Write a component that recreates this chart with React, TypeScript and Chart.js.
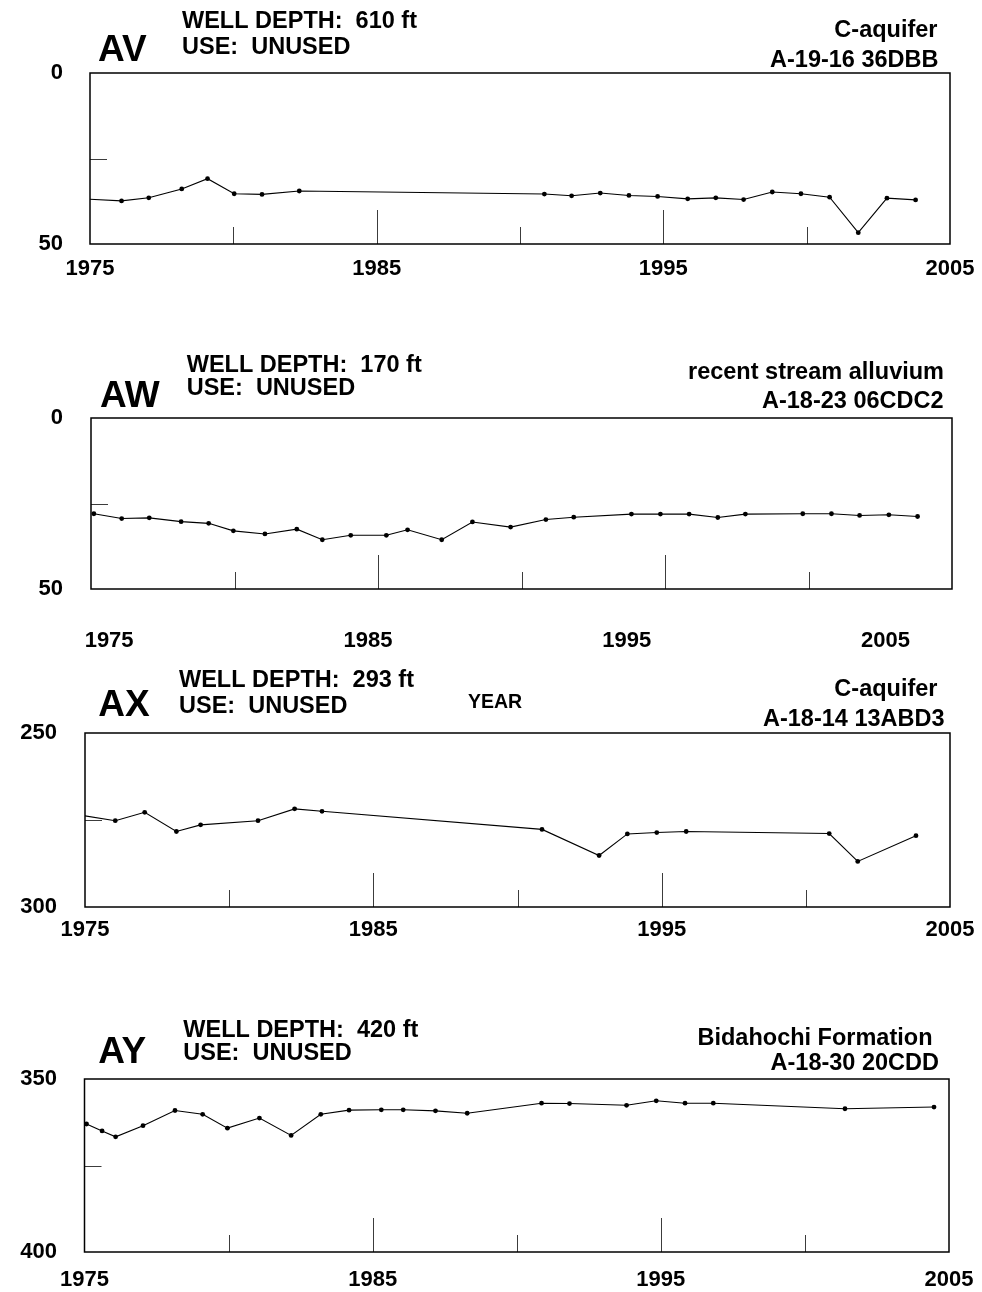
import React, { useEffect, useRef } from 'react';
import { Chart, registerables } from 'chart.js';

Chart.register(...registerables);

const FONT = '"Liberation Sans", Arial, Helvetica, sans-serif';

// ---------- DATA ----------
const xLabelYears = [1975, 1985, 1995, 2005];
const xTickYears = [1980, 1985, 1990, 1995, 2000];

const avYLabels = [0, 50];
const awYLabels = [0, 50];
const axYLabels = [250, 300];
const ayYLabels = [350, 400];

const avYears = [1974.6, 1976.1, 1977.05, 1978.2, 1979.1, 1980.03, 1981.0, 1982.3, 1990.85, 1991.8, 1992.8, 1993.8, 1994.8, 1995.85, 1996.83, 1997.8, 1998.8, 1999.8, 2000.8, 2001.8, 2002.8, 2003.8];
const avDepth = [36.75, 37.4, 36.5, 33.9, 30.9, 35.3, 35.5, 34.5, 35.4, 35.9, 35.1, 35.8, 36.1, 36.8, 36.5, 37.0, 34.8, 35.3, 36.3, 46.7, 36.6, 37.1];

const awYears = [1975.1, 1976.07, 1977.03, 1978.14, 1979.1, 1979.96, 1981.06, 1982.17, 1983.06, 1984.05, 1985.29, 1986.03, 1987.22, 1988.29, 1989.62, 1990.85, 1991.82, 1993.83, 1994.84, 1995.84, 1996.84, 1997.8, 1999.8, 2000.8, 2001.78, 2002.8, 2003.8];
const awDepth = [28.0, 29.4, 29.2, 30.3, 30.8, 33.0, 33.9, 32.5, 35.6, 34.3, 34.3, 32.7, 35.6, 30.4, 31.9, 29.7, 29.0, 28.1, 28.1, 28.1, 29.1, 28.1, 28.0, 28.0, 28.5, 28.3, 28.8];
const awLabelRange = [1974.3, 2007.57];

const axYears = [1974.6, 1976.05, 1977.07, 1978.17, 1979.01, 1981.0, 1982.27, 1983.22, 1990.85, 1992.83, 1993.81, 1994.83, 1995.85, 2000.81, 2001.8, 2003.82];
const axDepth = [273.3, 275.2, 272.8, 278.3, 276.4, 275.2, 271.8, 272.5, 277.7, 285.2, 279.0, 278.6, 278.3, 278.9, 286.9, 279.5];

const ayYears = [1975.07, 1975.61, 1976.08, 1977.03, 1978.14, 1979.1, 1979.96, 1981.07, 1982.17, 1983.2, 1984.18, 1985.3, 1986.06, 1987.18, 1988.28, 1990.86, 1991.83, 1993.81, 1994.84, 1995.84, 1996.82, 2001.39, 2004.48];
const ayDepth = [363.0, 365.0, 366.7, 363.5, 359.1, 360.2, 364.2, 361.3, 366.3, 360.2, 359.0, 358.9, 358.9, 359.2, 359.9, 357.0, 357.1, 357.6, 356.3, 357.0, 357.0, 358.6, 358.1];

// ---------- LAYOUT ----------
type TextItem = { text: string; x: number; y: number; size: number; align?: CanvasTextAlign };
type Panel = {
  id: string;
  years: number[];
  depth: number[];
  yLabels: number[];
  labelRange?: number[];
  canvasTop: number;
  canvasHeight: number;
  area: { left: number; right: number; top: number; bottom: number };
  xPad: number;
  yPad: number;
  texts: TextItem[];
};

const H = 23.5;
const BIG = 37;

const panels: Panel[] = [
  {
    id: 'AV', years: avYears, depth: avDepth, yLabels: avYLabels,
    canvasTop: 0, canvasHeight: 300,
    area: { left: 90, right: 950, top: 73, bottom: 244 }, xPad: 12, yPad: 27,
    texts: [
      { text: 'AV', x: 98, y: 61, size: BIG },
      { text: 'WELL DEPTH:  610 ft', x: 182, y: 28.3, size: H },
      { text: 'USE:  UNUSED', x: 182, y: 54, size: H },
      { text: 'C-aquifer', x: 937.5, y: 36.7, size: H, align: 'right' },
      { text: 'A-19-16 36DBB', x: 938.5, y: 67.3, size: H, align: 'right' },
    ],
  },
  {
    id: 'AW', years: awYears, depth: awDepth, yLabels: awYLabels, labelRange: awLabelRange,
    canvasTop: 330, canvasHeight: 390,
    area: { left: 91, right: 952, top: 418, bottom: 589 }, xPad: 39, yPad: 28,
    texts: [
      { text: 'AW', x: 100, y: 406.7, size: BIG },
      { text: 'WELL DEPTH:  170 ft', x: 186.7, y: 371.7, size: H },
      { text: 'USE:  UNUSED', x: 186.7, y: 395, size: H },
      { text: 'recent stream alluvium', x: 944, y: 379.3, size: H, align: 'right' },
      { text: 'A-18-23 06CDC2', x: 943.5, y: 408.3, size: H, align: 'right' },
      { text: 'YEAR', x: 495, y: 708.3, size: 19.5, align: 'center' },
    ],
  },
  {
    id: 'AX', years: axYears, depth: axDepth, yLabels: axYLabels,
    canvasTop: 650, canvasHeight: 310,
    area: { left: 85, right: 950, top: 733, bottom: 907 }, xPad: 10, yPad: 28,
    texts: [
      { text: 'AX', x: 98.3, y: 716, size: BIG },
      { text: 'WELL DEPTH:  293 ft', x: 179, y: 687.3, size: H },
      { text: 'USE:  UNUSED', x: 179, y: 712.7, size: H },
      { text: 'C-aquifer', x: 937.5, y: 696, size: H, align: 'right' },
      { text: 'A-18-14 13ABD3', x: 944.5, y: 725.7, size: H, align: 'right' },
    ],
  },
  {
    id: 'AY', years: ayYears, depth: ayDepth, yLabels: ayYLabels,
    canvasTop: 1000, canvasHeight: 292,
    area: { left: 84.5, right: 949, top: 1079, bottom: 1252 }, xPad: 15, yPad: 27.5,
    texts: [
      { text: 'AY', x: 98.3, y: 1063.3, size: BIG },
      { text: 'WELL DEPTH:  420 ft', x: 183.3, y: 1036.7, size: H },
      { text: 'USE:  UNUSED', x: 183.3, y: 1060, size: H },
      { text: 'Bidahochi Formation', x: 932.5, y: 1045, size: H, align: 'right' },
      { text: 'A-18-30 20CDD', x: 939, y: 1070, size: H, align: 'right' },
    ],
  },
];

const W = 982;
const tickFont = { family: FONT, size: 22, weight: 'bold' as const };

function PanelChart({ p }: { p: Panel }) {
  const ref = useRef<HTMLCanvasElement | null>(null);

  useEffect(() => {
    const canvas = ref.current;
    if (!canvas) return;
    const xHeight = p.canvasTop + p.canvasHeight - p.area.bottom;

    const decor = {
      id: 'decor' + p.id,
      beforeDatasetsDraw(chart: any) {
        const { ctx, chartArea: a } = chart;
        const xs = chart.scales.x;
        const ys = chart.scales.y;
        ctx.save();
        ctx.strokeStyle = '#3c3c3c';
        ctx.lineWidth = 1;
        xTickYears.forEach((v) => {
          const px = Math.round(xs.getPixelForValue(v)) + 0.5;
          const len = (v - xLabelYears[0]) % 10 === 0 ? 34 : 17;
          ctx.beginPath();
          ctx.moveTo(px, a.bottom);
          ctx.lineTo(px, a.bottom - len);
          ctx.stroke();
        });
        const mid = (p.yLabels[0] + p.yLabels[1]) / 2;
        const py = Math.round(ys.getPixelForValue(mid)) + 0.5;
        ctx.beginPath();
        ctx.moveTo(a.left, py);
        ctx.lineTo(a.left + 17, py);
        ctx.stroke();
        ctx.strokeStyle = '#000';
        ctx.lineWidth = 1.5;
        ctx.strokeRect(a.left, a.top, a.right - a.left, a.bottom - a.top);
        ctx.restore();
      },
      afterDraw(chart: any) {
        const { ctx } = chart;
        ctx.save();
        ctx.fillStyle = '#000';
        ctx.textBaseline = 'alphabetic';
        p.texts.forEach((t) => {
          ctx.font = `bold ${t.size}px ${FONT}`;
          ctx.textAlign = t.align || 'left';
          ctx.fillText(t.text, t.x, t.y - p.canvasTop);
        });
        ctx.restore();
      },
    };

    const labelAxis = (min: number, max: number, visible: boolean) => ({
      type: 'linear',
      position: 'bottom',
      min,
      max,
      display: visible,
      grid: { display: false, drawTicks: false },
      border: { display: false },
      afterBuildTicks: (s: any) => {
        s.ticks = xLabelYears.map((v) => ({ value: v }));
      },
      ticks: {
        padding: p.xPad,
        font: tickFont,
        color: '#000',
        maxRotation: 0,
        autoSkip: false,
        callback: (v: any) => String(v),
      },
      ...(visible
        ? {
            afterFit: (s: any) => {
              s.height = xHeight;
              s.paddingLeft = 0;
              s.paddingRight = 0;
            },
          }
        : {}),
    });

    const scales: any = {
      x: labelAxis(xLabelYears[0], xLabelYears[xLabelYears.length - 1], !p.labelRange),
      y: {
        type: 'linear',
        position: 'left',
        min: p.yLabels[0],
        max: p.yLabels[1],
        reverse: true,
        grid: { display: false, drawTicks: false },
        border: { display: false },
        afterBuildTicks: (s: any) => {
          s.ticks = p.yLabels.map((v) => ({ value: v }));
        },
        ticks: {
          padding: p.yPad,
          font: tickFont,
          color: '#000',
          callback: (v: any) => String(v),
        },
        afterFit: (s: any) => {
          s.width = p.area.left;
          s.paddingTop = 0;
          s.paddingBottom = 0;
        },
      },
    };
    if (p.labelRange) {
      scales.xl = labelAxis(p.labelRange[0], p.labelRange[1], true);
    }

    const chart = new Chart(canvas, {
      type: 'line',
      data: {
        datasets: [
          {
            data: p.years.map((x, i) => ({ x, y: p.depth[i] })),
            xAxisID: 'x',
            yAxisID: 'y',
            borderColor: '#000',
            borderWidth: 1.1,
            pointRadius: 2.4,
            pointBackgroundColor: '#000',
            pointBorderWidth: 0,
            tension: 0,
            fill: false,
          },
        ],
      },
      options: {
        responsive: false,
        animation: false,
        events: [],
        layout: {
          padding: {
            left: 0,
            right: W - p.area.right,
            top: p.area.top - p.canvasTop,
            bottom: 0,
          },
        },
        plugins: {
          legend: { display: false },
          tooltip: { enabled: false },
          title: { display: false },
        },
        scales,
      } as any,
      plugins: [decor],
    });

    return () => chart.destroy();
  }, [p]);

  return (
    <canvas
      ref={ref}
      width={W}
      height={p.canvasHeight}
      style={{ position: 'absolute', left: 0, top: p.canvasTop, width: W, height: p.canvasHeight }}
    />
  );
}

export default function App() {
  return (
    <div
      style={{
        position: 'absolute',
        left: 0,
        top: 0,
        width: W,
        height: 1292,
        overflow: 'hidden',
        background: '#fff',
      }}
    >
      {panels.map((p) => (
        <PanelChart key={p.id} p={p} />
      ))}
    </div>
  );
}
